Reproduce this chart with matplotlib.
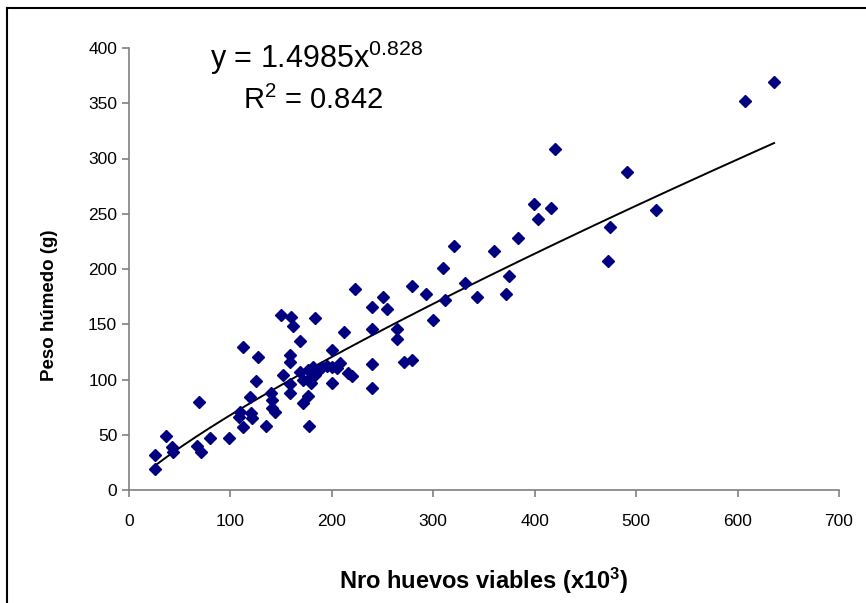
import numpy as np
import matplotlib
matplotlib.use("Agg")
import matplotlib.pyplot as plt
from matplotlib.lines import Line2D

plt.rcParams['font.family'] = ['Liberation Sans', 'DejaVu Sans']
plt.rcParams['mathtext.default'] = 'regular'

# huevos viables (x10^3) y peso humedo (g)
huevos = [26, 26, 36, 42, 43, 67, 69, 71, 80, 99,
          108, 109, 112, 112, 119, 120, 121, 125, 127, 135,
          140, 141, 141, 144, 150, 152, 159, 159, 159, 159,
          160, 162, 169, 169, 172, 176, 176, 177, 179, 179,
          181, 183, 183, 190, 200, 200, 200, 208, 212, 216,
          220, 223, 240, 240, 240, 240, 250, 254, 264, 264,
          271, 279, 279, 293, 300, 310, 312, 320, 331, 343,
          360, 372, 375, 384, 399, 403, 416, 420, 472, 474,
          491, 520, 607, 636, 172, 186, 195, 205]
peso = [19, 32, 49, 39, 34, 40, 80, 34, 47, 47,
        66, 71, 57, 129, 84, 70, 65, 99, 120, 58,
        88, 81, 74, 71, 158, 104, 122, 116, 96, 88,
        157, 148, 135, 107, 79, 85, 109, 58, 102, 97,
        111, 104, 156, 111, 127, 111, 97, 115, 143, 106,
        103, 182, 166, 146, 114, 92, 175, 164, 146, 137,
        116, 118, 185, 177, 154, 201, 172, 221, 187, 175,
        216, 177, 194, 228, 259, 245, 255, 309, 207, 238,
        288, 253, 352, 369, 100, 108, 112, 110]

# linea de tendencia potencial
coef_a = 1.4985
coef_b = 0.828
r2 = 0.842

fig = plt.figure(figsize=(8.66, 6.03), dpi=100)
ax = fig.add_axes([129 / 866, 113 / 603, 710 / 866, 442 / 603])

ax.plot(huevos, peso, linestyle='none', marker='D', markersize=6.6,
        color='#000080', markeredgecolor='#000080', zorder=3)

xt = np.linspace(min(huevos), max(huevos), 200)
ax.plot(xt, coef_a * xt ** coef_b, color='black', lw=1.4, zorder=2)

ax.set_xlim(0, 700)
ax.set_ylim(0, 400)
ax.set_xticks(range(0, 701, 100))
ax.set_yticks(range(0, 401, 50))
for s in ['top', 'right']:
    ax.spines[s].set_visible(False)
for s in ['left', 'bottom']:
    ax.spines[s].set_color('#808080')
    ax.spines[s].set_linewidth(1.2)
ax.tick_params(axis='both', colors='#808080', labelcolor='black',
               labelsize=12.5, length=5, width=1.2, direction='out')
ax.tick_params(axis='x', pad=12)

ax.set_xlabel('Nro huevos viables (x10$^3$)', fontsize=17, fontweight='bold')
ax.set_ylabel('Peso húmedo (g)', fontsize=13.5, fontweight='bold')
ax.xaxis.set_label_coords(0.5, -0.172)
ax.yaxis.set_label_coords(-0.1, 0.419)

ax.text(0.114, 0.977, 'y = %.4fx$^{%.3f}$' % (coef_a, coef_b), transform=ax.transAxes,
        fontsize=22, ha='left', va='center')
ax.text(0.161, 0.882, 'R$^2$ = %.3f' % r2, transform=ax.transAxes,
        fontsize=21, ha='left', va='center')

# marco exterior (solo arriba e izquierda visibles)
fig.add_artist(Line2D([7 / 866, 1], [1 - 8 / 603, 1 - 8 / 603], color='black', lw=1.5))
fig.add_artist(Line2D([7 / 866, 7 / 866], [0, 1 - 8 / 603], color='black', lw=1.5))

fig.savefig('out.png', dpi=100)
